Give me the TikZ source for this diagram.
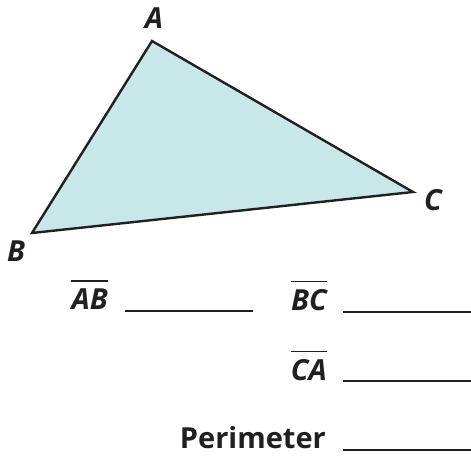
\documentclass[tikz,border=0pt]{standalone}
\usepackage{fontspec}
\setmainfont{Open Sans}
\usetikzlibrary{calc}
\definecolor{tfill}{RGB}{200,231,233}
\definecolor{ink}{RGB}{35,31,32}
\tikzset{
  lbl/.style={inner sep=0pt, text=ink, font=\fontsize{29}{32}\selectfont\bfseries\itshape},
  word/.style={inner sep=0pt, text=ink, font=\fontsize{29}{32}\selectfont\bfseries},
  tri/.style={draw=ink, line width=2.4pt, fill=tfill, line join=miter},
  blank/.style={draw=ink, line width=2pt},
  ovl/.style={draw=ink, line width=1.4pt}
}
\begin{document}
\begin{tikzpicture}[x=1pt,y=-1pt]
\useasboundingbox (0,0) rectangle (471,455);
\coordinate (A) at (152,41);
\coordinate (B) at (32,233);
\coordinate (C) at (413,192);
\draw[tri] (A) -- (C) -- (B) -- cycle;
\node[lbl, anchor=base] (la) at (154,28) {A};
\node[lbl, anchor=base] (lb) at (16,261) {B};
\node[lbl, anchor=base] (lc) at (433,210) {C};

\node[lbl, anchor=base east] (ab) at (108,309) {AB};
\node[lbl, anchor=base east] (bc) at (327,310) {BC};
\node[lbl, anchor=base east] (ca) at (327,380) {CA};
\node[word, anchor=base east] (per) at (326,448) {Perimeter};
\foreach \n in {ab,bc,ca}{
  \draw[ovl] ([yshift=7pt]\n.north west) -- ([yshift=7pt]\n.north east);
}
\coordinate (abs) at (125,311); \coordinate (abe) at (253,311);
\coordinate (bcs) at (343,312); \coordinate (bce) at (471,312);
\coordinate (cas) at (343,381); \coordinate (cae) at (471,381);
\coordinate (pes) at (343,450); \coordinate (pee) at (471,450);
\draw[blank] (abs) -- (abe);
\draw[blank] (bcs) -- (bce);
\draw[blank] (cas) -- (cae);
\draw[blank] (pes) -- (pee);
\end{tikzpicture}
\end{document}
